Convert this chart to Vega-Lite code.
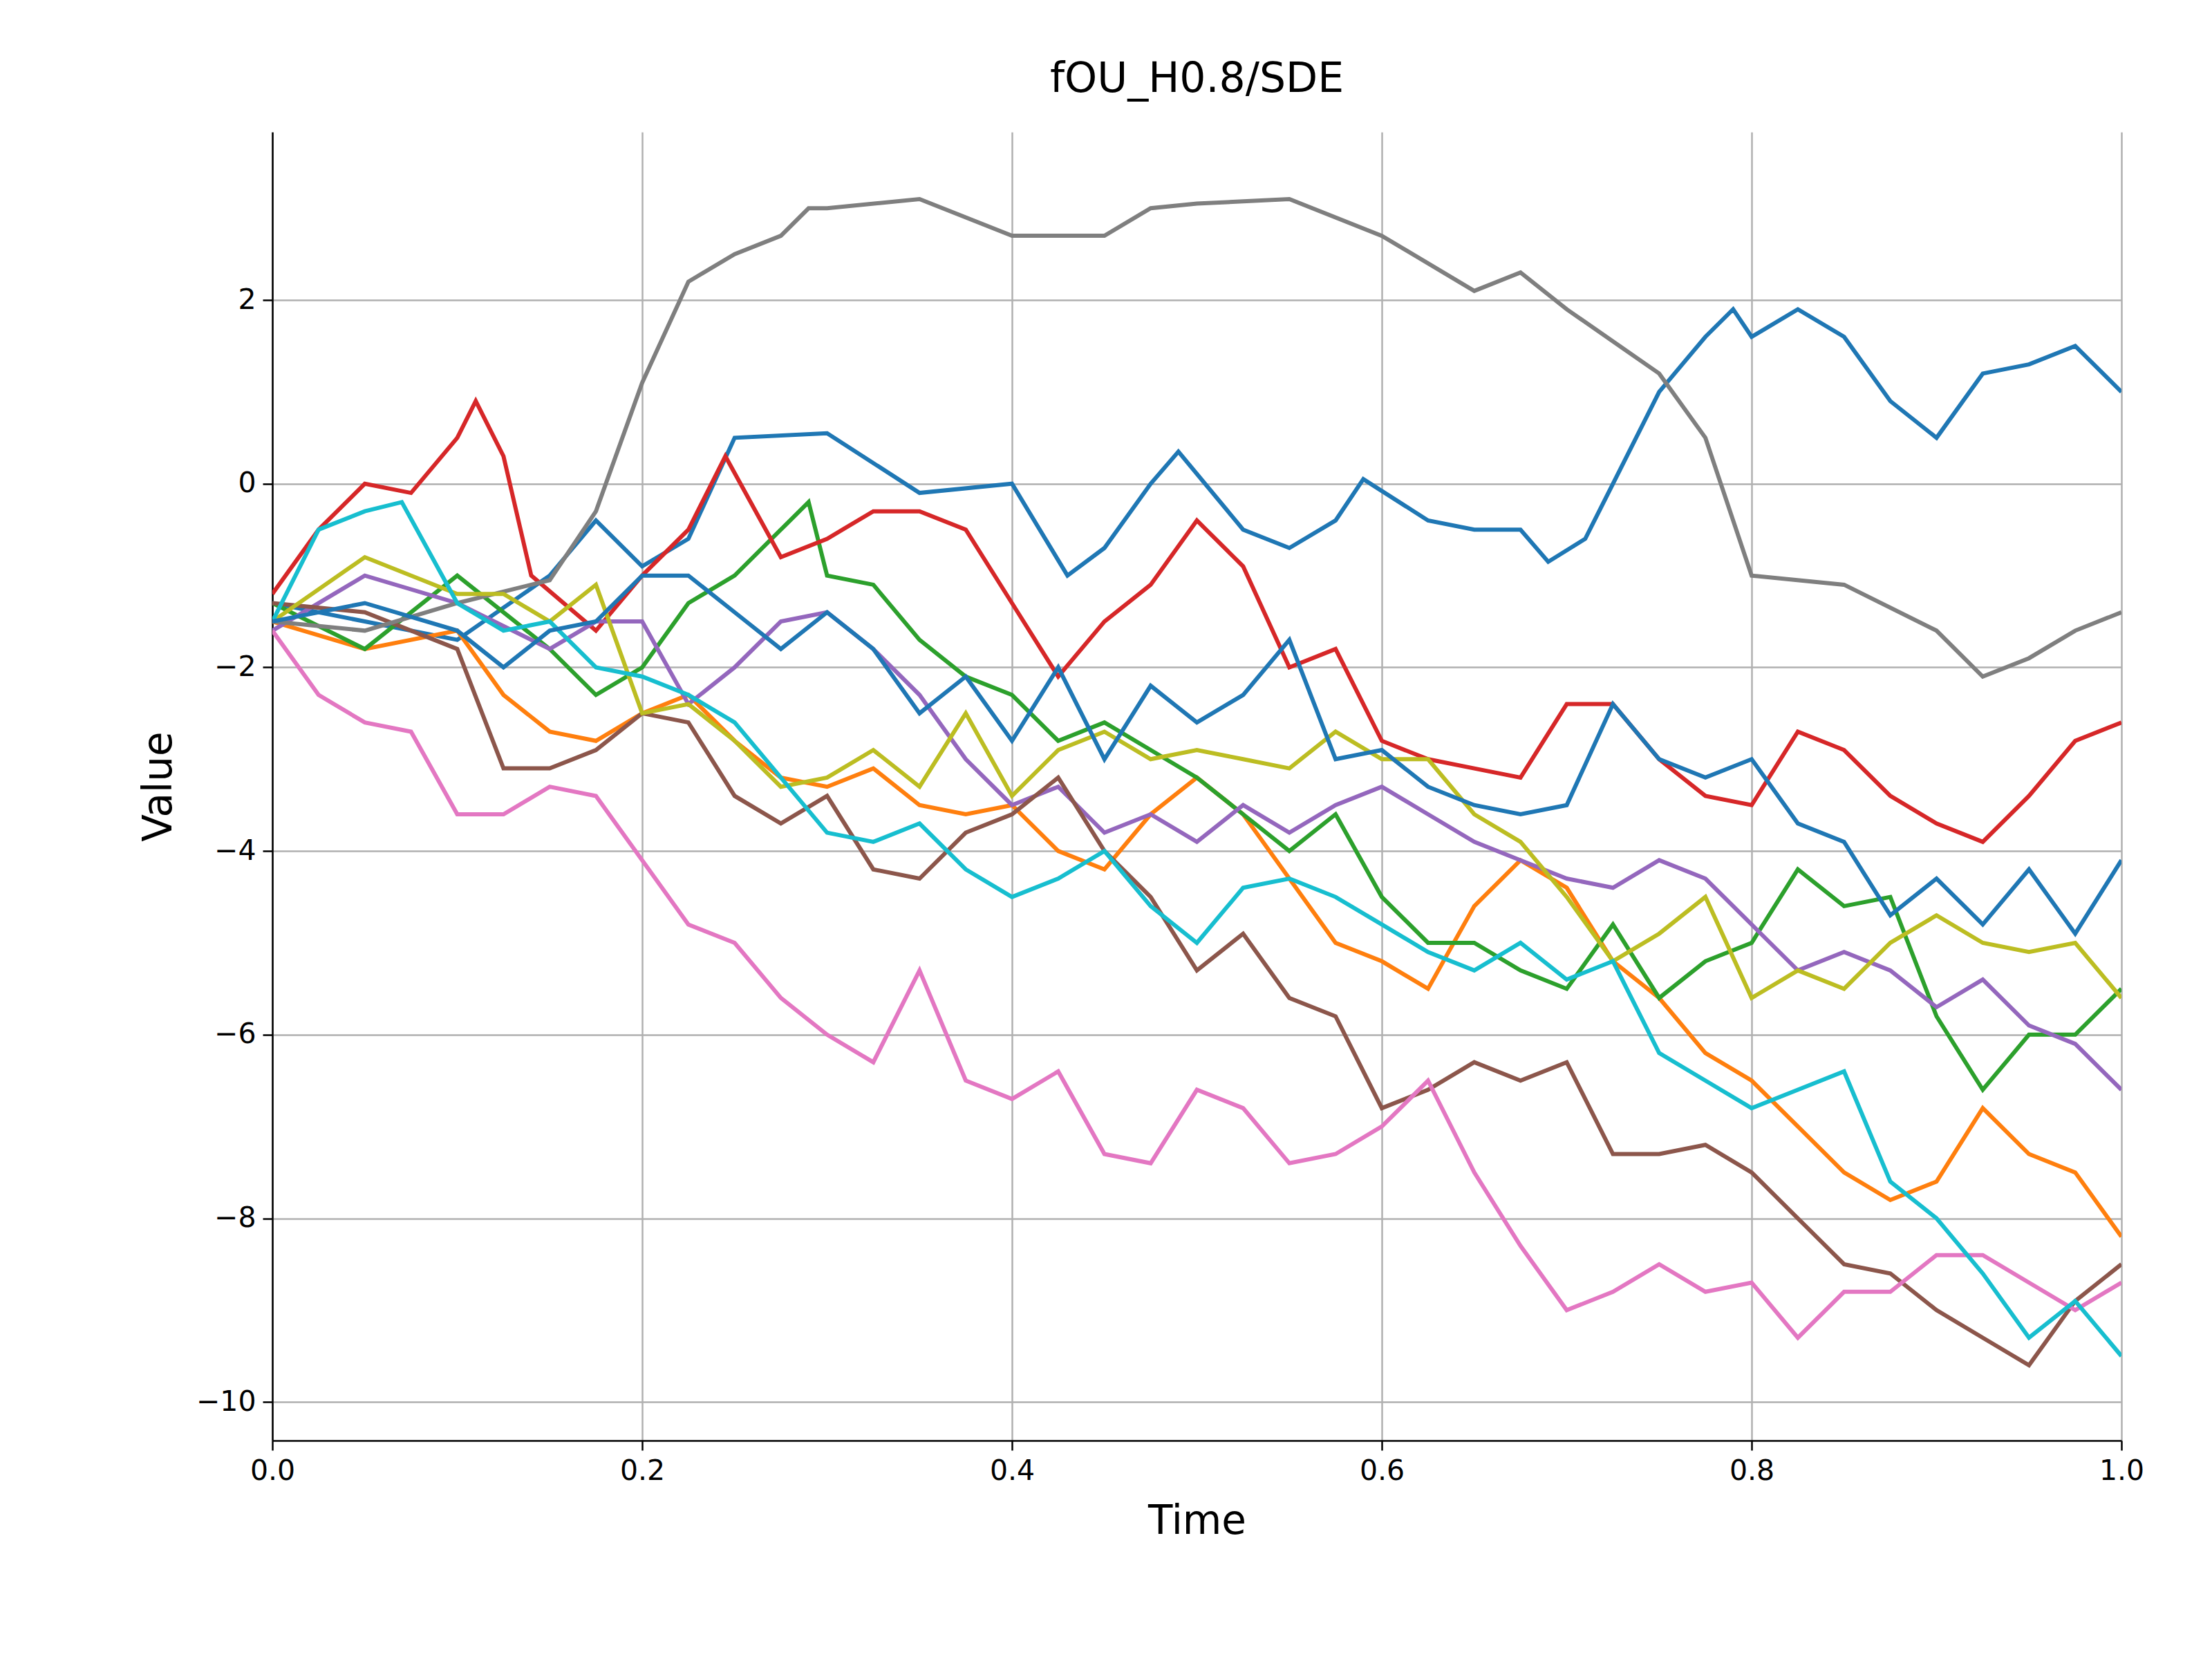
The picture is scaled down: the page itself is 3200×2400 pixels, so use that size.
{
  "$schema": "https://vega.github.io/schema/vega-lite/v6.json",
  "width": 2675,
  "height": 1893,
  "autosize": {"type": "none"},
  "padding": {"left": 394, "top": 191, "right": 131, "bottom": 316},
  "background": "white",
  "title": {"text": "fOU_H0.8/SDE", "fontSize": 60, "font": "DejaVu Sans", "fontWeight": "normal", "offset": 45},
  "data": {
    "values": [
      {"s": "a01", "k": 1, "t": [0,0.05,0.1,0.15,0.175,0.2,0.225,0.25,0.3,0.35,0.4,0.43,0.45,0.475,0.49,0.525,0.55,0.575,0.59,0.625,0.65,0.675,0.69,0.71,0.725,0.75,0.775,0.79,0.8,0.825,0.85,0.875,0.9,0.925,0.95,0.975,1.0],
       "v": [-1.3,-1.5,-1.7,-1.0,-0.4,-0.9,-0.6,0.5,0.55,-0.1,0.0,-1.0,-0.7,0.0,0.35,-0.5,-0.7,-0.4,0.05,-0.4,-0.5,-0.5,-0.85,-0.6,0.0,1.0,1.6,1.9,1.6,1.9,1.6,0.9,0.5,1.2,1.3,1.5,1.0]},
      {"s": "a02", "k": 2, "t": [0,0.05,0.1,0.125,0.15,0.175,0.2,0.225,0.25,0.275,0.3,0.325,0.35,0.375,0.4,0.425,0.45,0.475,0.5,0.525,0.55,0.575,0.6,0.625,0.65,0.675,0.7,0.725,0.75,0.775,0.8,0.825,0.85,0.875,0.9,0.925,0.95,0.975,1.0],
       "v": [-1.5,-1.8,-1.6,-2.3,-2.7,-2.8,-2.5,-2.3,-2.8,-3.2,-3.3,-3.1,-3.5,-3.6,-3.5,-4.0,-4.2,-3.6,-3.2,-3.6,-4.3,-5.0,-5.2,-5.5,-4.6,-4.1,-4.4,-5.2,-5.6,-6.2,-6.5,-7.0,-7.5,-7.8,-7.6,-6.8,-7.3,-7.5,-8.2]},
      {"s": "a03", "k": 3, "t": [0,0.05,0.1,0.15,0.175,0.2,0.225,0.25,0.275,0.29,0.3,0.325,0.35,0.375,0.4,0.425,0.45,0.475,0.5,0.525,0.55,0.575,0.6,0.625,0.65,0.675,0.7,0.725,0.75,0.775,0.8,0.825,0.85,0.875,0.9,0.925,0.95,0.975,1.0],
       "v": [-1.3,-1.8,-1.0,-1.8,-2.3,-2.0,-1.3,-1.0,-0.5,-0.2,-1.0,-1.1,-1.7,-2.1,-2.3,-2.8,-2.6,-2.9,-3.2,-3.6,-4.0,-3.6,-4.5,-5.0,-5.0,-5.3,-5.5,-4.8,-5.6,-5.2,-5.0,-4.2,-4.6,-4.5,-5.8,-6.6,-6.0,-6.0,-5.5]},
      {"s": "a04", "k": 4, "t": [0,0.025,0.05,0.075,0.1,0.11,0.125,0.14,0.175,0.2,0.225,0.245,0.275,0.3,0.325,0.35,0.375,0.4,0.425,0.45,0.475,0.5,0.525,0.55,0.575,0.6,0.625,0.65,0.675,0.7,0.725,0.75,0.775,0.8,0.825,0.85,0.875,0.9,0.925,0.95,0.975,1.0],
       "v": [-1.2,-0.5,0.0,-0.1,0.5,0.9,0.3,-1.0,-1.6,-1.0,-0.5,0.3,-0.8,-0.6,-0.3,-0.3,-0.5,-1.3,-2.1,-1.5,-1.1,-0.4,-0.9,-2.0,-1.8,-2.8,-3.0,-3.1,-3.2,-2.4,-2.4,-3.0,-3.4,-3.5,-2.7,-2.9,-3.4,-3.7,-3.9,-3.4,-2.8,-2.6]},
      {"s": "a05", "k": 5, "t": [0,0.05,0.1,0.15,0.175,0.2,0.225,0.25,0.275,0.3,0.325,0.35,0.375,0.4,0.425,0.45,0.475,0.5,0.525,0.55,0.575,0.6,0.625,0.65,0.675,0.7,0.725,0.75,0.775,0.8,0.825,0.85,0.875,0.9,0.925,0.95,0.975,1.0],
       "v": [-1.6,-1.0,-1.3,-1.8,-1.5,-1.5,-2.4,-2.0,-1.5,-1.4,-1.8,-2.3,-3.0,-3.5,-3.3,-3.8,-3.6,-3.9,-3.5,-3.8,-3.5,-3.3,-3.6,-3.9,-4.1,-4.3,-4.4,-4.1,-4.3,-4.8,-5.3,-5.1,-5.3,-5.7,-5.4,-5.9,-6.1,-6.6]},
      {"s": "a06", "k": 6, "t": [0,0.05,0.1,0.125,0.15,0.175,0.2,0.225,0.25,0.275,0.3,0.325,0.35,0.375,0.4,0.425,0.45,0.475,0.5,0.525,0.55,0.575,0.6,0.625,0.65,0.675,0.7,0.725,0.75,0.775,0.8,0.825,0.85,0.875,0.9,0.925,0.95,0.975,1.0],
       "v": [-1.3,-1.4,-1.8,-3.1,-3.1,-2.9,-2.5,-2.6,-3.4,-3.7,-3.4,-4.2,-4.3,-3.8,-3.6,-3.2,-4.0,-4.5,-5.3,-4.9,-5.6,-5.8,-6.8,-6.6,-6.3,-6.5,-6.3,-7.3,-7.3,-7.2,-7.5,-8.0,-8.5,-8.6,-9.0,-9.3,-9.6,-8.9,-8.5]},
      {"s": "a07", "k": 7, "t": [0,0.025,0.05,0.075,0.1,0.125,0.15,0.175,0.2,0.225,0.25,0.275,0.3,0.325,0.35,0.375,0.4,0.425,0.45,0.475,0.5,0.525,0.55,0.575,0.6,0.625,0.65,0.675,0.7,0.725,0.75,0.775,0.8,0.825,0.85,0.875,0.9,0.925,0.95,0.975,1.0],
       "v": [-1.6,-2.3,-2.6,-2.7,-3.6,-3.6,-3.3,-3.4,-4.1,-4.8,-5.0,-5.6,-6.0,-6.3,-5.3,-6.5,-6.7,-6.4,-7.3,-7.4,-6.6,-6.8,-7.4,-7.3,-7.0,-6.5,-7.5,-8.3,-9.0,-8.8,-8.5,-8.8,-8.7,-9.3,-8.8,-8.8,-8.4,-8.4,-8.7,-9.0,-8.7]},
      {"s": "a08", "k": 8, "t": [0,0.05,0.1,0.15,0.175,0.2,0.225,0.25,0.275,0.29,0.3,0.35,0.4,0.45,0.475,0.5,0.55,0.6,0.65,0.675,0.7,0.75,0.775,0.8,0.85,0.9,0.925,0.95,0.975,1.0],
       "v": [-1.5,-1.6,-1.3,-1.05,-0.3,1.1,2.2,2.5,2.7,3.0,3.0,3.1,2.7,2.7,3.0,3.05,3.1,2.7,2.1,2.3,1.9,1.2,0.5,-1.0,-1.1,-1.6,-2.1,-1.9,-1.6,-1.4]},
      {"s": "a09", "k": 9, "t": [0,0.05,0.1,0.125,0.15,0.175,0.2,0.225,0.25,0.275,0.3,0.325,0.35,0.375,0.4,0.425,0.45,0.475,0.5,0.525,0.55,0.575,0.6,0.625,0.65,0.675,0.7,0.725,0.75,0.775,0.8,0.825,0.85,0.875,0.9,0.925,0.95,0.975,1.0],
       "v": [-1.5,-0.8,-1.2,-1.2,-1.5,-1.1,-2.5,-2.4,-2.8,-3.3,-3.2,-2.9,-3.3,-2.5,-3.4,-2.9,-2.7,-3.0,-2.9,-3.0,-3.1,-2.7,-3.0,-3.0,-3.6,-3.9,-4.5,-5.2,-4.9,-4.5,-5.6,-5.3,-5.5,-5.0,-4.7,-5.0,-5.1,-5.0,-5.6]},
      {"s": "a10", "k": 10, "t": [0,0.025,0.05,0.07,0.1,0.125,0.15,0.175,0.2,0.225,0.25,0.275,0.3,0.325,0.35,0.375,0.4,0.425,0.45,0.475,0.5,0.525,0.55,0.575,0.6,0.625,0.65,0.675,0.7,0.725,0.75,0.775,0.8,0.825,0.85,0.875,0.9,0.925,0.95,0.975,1.0],
       "v": [-1.5,-0.5,-0.3,-0.2,-1.3,-1.6,-1.5,-2.0,-2.1,-2.3,-2.6,-3.2,-3.8,-3.9,-3.7,-4.2,-4.5,-4.3,-4.0,-4.6,-5.0,-4.4,-4.3,-4.5,-4.8,-5.1,-5.3,-5.0,-5.4,-5.2,-6.2,-6.5,-6.8,-6.6,-6.4,-7.6,-8.0,-8.6,-9.3,-8.9,-9.5]},
      {"s": "a11", "k": 11, "t": [0,0.05,0.1,0.125,0.15,0.175,0.2,0.225,0.25,0.275,0.3,0.325,0.35,0.375,0.4,0.425,0.45,0.475,0.5,0.525,0.55,0.575,0.6,0.625,0.65,0.675,0.7,0.725,0.75,0.775,0.8,0.825,0.85,0.875,0.9,0.925,0.95,0.975,1.0],
       "v": [-1.5,-1.3,-1.6,-2.0,-1.6,-1.5,-1.0,-1.0,-1.4,-1.8,-1.4,-1.8,-2.5,-2.1,-2.8,-2.0,-3.0,-2.2,-2.6,-2.3,-1.7,-3.0,-2.9,-3.3,-3.5,-3.6,-3.5,-2.4,-3.0,-3.2,-3.0,-3.7,-3.9,-4.7,-4.3,-4.8,-4.2,-4.9,-4.1]}
    ]
  },
  "transform": [{"flatten": ["t", "v"]}],
  "mark": {"type": "line", "strokeWidth": 6, "clip": true},
  "encoding": {
    "x": {
      "field": "t", "type": "quantitative", "title": "Time",
      "scale": {"domain": [0, 1], "nice": false, "zero": false},
      "axis": {"values": [0, 0.2, 0.4, 0.6, 0.8, 1.0], "format": ".1f"}
    },
    "y": {
      "field": "v", "type": "quantitative", "title": "Value",
      "scale": {"domain": [-10.42, 3.83], "nice": false, "zero": false},
      "axis": {"values": [-10, -8, -6, -4, -2, 0, 2], "format": "d"}
    },
    "color": {
      "field": "s", "type": "nominal", "legend": null,
      "scale": {
        "domain": ["a01","a02","a03","a04","a05","a06","a07","a08","a09","a10","a11"],
        "range": ["#1f77b4","#ff7f0e","#2ca02c","#d62728","#9467bd","#8c564b","#e377c2","#7f7f7f","#bcbd22","#17becf","#1f77b4"]
      }
    },
    "detail": {"field": "s"},
    "order": {"field": "t", "type": "quantitative"}
  },
  "config": {
    "view": {"stroke": null},
    "font": "DejaVu Sans",
    "axis": {
      "grid": true, "gridColor": "#b0b0b0", "gridWidth": 2.5,
      "domainColor": "black", "domainWidth": 2.5,
      "tickColor": "black", "tickWidth": 2.5, "tickSize": 14,
      "labelFontSize": 41, "labelColor": "black", "labelPadding": 10, "labelFont": "DejaVu Sans",
      "titleFontSize": 58, "titleFontWeight": "normal", "titleColor": "black", "titleFont": "DejaVu Sans",
      "titlePadding": 24
    },
    "axisX": {"labelFlush": false}
  }
}
